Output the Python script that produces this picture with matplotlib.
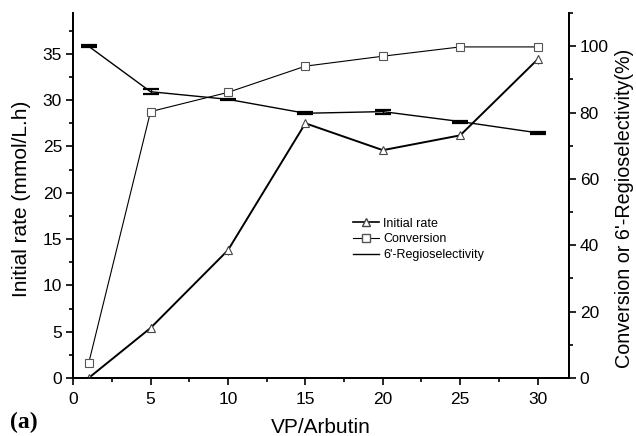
import matplotlib
matplotlib.use("Agg")
import matplotlib.pyplot as plt
from matplotlib.ticker import MultipleLocator
from matplotlib.lines import Line2D

plt.rcParams['font.family'] = ['Liberation Sans', 'DejaVu Sans']

ratio = [1, 5, 10, 15, 20, 25, 30]
initial_rate = [0.0, 5.4, 13.8, 27.5, 24.6, 26.2, 34.4]
initial_rate_err = [0.2, 0.4, 0.5, 0.4, 0.3, 0.4, 0.5]
conversion = [4.4, 80.3, 86.1, 94.0, 97.0, 99.8, 99.8]
conversion_err = [1.2, 1.2, 1.2, 1.0, 1.0, 1.0, 1.0]
regio = [100.0, 86.3, 84.0, 79.8, 80.3, 77.3, 73.9]
regio_err = [0.3, 0.7, 0.2, 0.3, 0.6, 0.3, 0.3]

fig = plt.figure(figsize=(6.36, 4.36), dpi=100)
ax = fig.add_axes([0.115, 0.133, 0.779, 0.837])
ax2 = ax.twinx()

ax.errorbar(ratio, initial_rate, yerr=initial_rate_err, color='black', lw=1.4,
            marker='^', ms=6, mfc='white', mec='#444444', mew=0.8,
            ecolor='#444444', elinewidth=0.8, capsize=0, zorder=3)
ax2.errorbar(ratio, conversion, yerr=conversion_err, color='black', lw=0.8,
             marker='s', ms=5.5, mfc='white', mec='#555555', mew=0.8,
             ecolor='#555555', elinewidth=0.8, capsize=0, zorder=3)
ax2.errorbar(ratio, regio, yerr=regio_err, color='black', lw=1.0,
             marker='None', ecolor='black', elinewidth=1.0, capsize=6,
             capthick=1.6, zorder=3)

ax.set_xlim(0, 32)
ax.set_ylim(0, 39.4)
ax2.set_ylim(0, 110)

ax.xaxis.set_major_locator(MultipleLocator(5))
ax.xaxis.set_minor_locator(MultipleLocator(2.5))
ax.yaxis.set_major_locator(MultipleLocator(5))
ax.yaxis.set_minor_locator(MultipleLocator(2.5))
ax2.yaxis.set_major_locator(MultipleLocator(20))
ax2.yaxis.set_minor_locator(MultipleLocator(10))

for a in (ax, ax2):
    a.spines['top'].set_visible(False)
    for s in a.spines.values():
        s.set_linewidth(1.3)
    a.tick_params(which='major', direction='out', length=5, width=1.2, labelsize=12.5, pad=3)
    a.tick_params(which='minor', direction='out', length=3, width=1.2)
ax.tick_params(axis='x', which='major', pad=5)

ax.set_xlabel('VP/Arbutin', fontsize=15)
ax.xaxis.set_label_coords(0.5, -0.11)
ax.set_ylabel('Initial rate (mmol/L.h)', fontsize=15)
ax.yaxis.set_label_coords(-0.085, 0.49)
ax2.set_ylabel("Conversion or 6'-Regioselectivity(%)", fontsize=14.2)
ax2.yaxis.set_label_coords(1.093, 0.465)

handles = [
    Line2D([], [], color='black', lw=1.2, marker='^', ms=6, mfc='white', mec='#444444'),
    Line2D([], [], color='black', lw=0.8, marker='s', ms=5.5, mfc='white', mec='#555555'),
    Line2D([], [], color='black', lw=1.0),
]
ax.legend(handles, ['Initial rate', 'Conversion', "6'-Regioselectivity"],
          loc='upper left', bbox_to_anchor=(0.542, 0.47), frameon=False,
          fontsize=9, handlelength=2.1, handletextpad=0.3, labelspacing=0.3)

fig.text(0.016, 0.018, '(a)', fontsize=17, fontweight='bold', family='Liberation Serif')

fig.savefig('out.png', dpi=100)
